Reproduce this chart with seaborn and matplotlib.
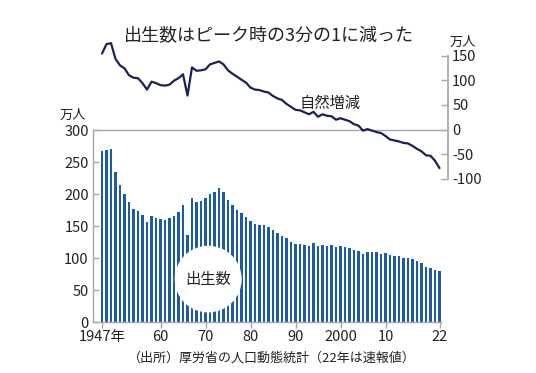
import numpy as np
import pandas as pd
import matplotlib
matplotlib.use("Agg")
import matplotlib.pyplot as plt
from matplotlib.patches import Ellipse
import seaborn as sns

years = list(range(1947, 2023))
births = [267.9, 268.2, 269.7, 233.8, 213.8, 200.5, 186.8, 177.0, 173.1, 166.5,
          156.7, 165.3, 162.6, 160.6, 158.9, 161.9, 166.0, 171.7, 182.4, 136.1,
          193.6, 187.2, 189.0, 193.4, 200.1, 203.9, 209.2, 203.0, 190.1, 183.3,
          175.5, 170.9, 164.3, 157.7, 152.9, 151.5, 150.9, 149.0, 143.2, 138.3,
          134.7, 131.4, 124.7, 122.2, 122.3, 120.9, 118.8, 123.8, 118.7, 120.7,
          119.2, 120.3, 117.8, 119.1, 117.1, 115.4, 112.4, 111.1, 106.3, 109.3,
          109.0, 109.1, 107.0, 107.1, 105.1, 103.7, 103.0, 100.4, 100.6, 97.7,
          94.6, 91.8, 86.5, 84.1, 81.2, 80.0]
natural = [154, 173, 175, 143, 130, 124, 110, 105, 104, 94,
           81, 97, 94, 90, 89, 91, 99, 104, 112, 69,
           126, 119, 120, 122, 132, 135, 138, 132, 120, 113,
           107, 101, 95, 85, 81, 80, 77, 75, 68, 63,
           60, 52, 46, 40, 39, 35, 31, 36, 26, 31,
           28, 27, 20, 23, 20, 17, 11, 8, -2, 1,
           -2, -5, -7, -13, -20, -22, -24, -27, -28, -33,
           -39, -44, -52, -53, -63, -78]
xtick_years = [1947, 1960, 1970, 1980, 1990, 2000, 2010, 2022]
xtick_labels = ["1947年", "60", "70", "80", "90", "2000", "10", "22"]
left_ticks = [0, 50, 100, 150, 200, 250, 300]
right_ticks = [-100, -50, 0, 50, 100, 150]

sns.set_theme(style="white")
plt.rcParams["font.family"] = ["Noto Sans CJK JP", "DejaVu Sans"]
plt.rcParams["axes.unicode_minus"] = False

BAR = "#1d5ba8"
LINE = "#1b2153"
GRAY = "#a8a8a8"
TXT = "#222222"

W, H = 536, 373
fig = plt.figure(figsize=(W / 100, H / 100), dpi=100)

def rect(l, t, r, b):
    return [l / W, 1 - b / H, (r - l) / W, (b - t) / H]

ax1 = fig.add_axes(rect(93, 130, 441, 322))
ax2 = fig.add_axes(rect(93, 40, 448, 179))
for a in (ax1, ax2):
    a.patch.set_alpha(0)

df = pd.DataFrame({"year": years, "births": births, "natural": natural})

sns.barplot(data=df, x="year", y="births", native_scale=True, color=BAR,
            saturation=1, width=0.6, ax=ax1, linewidth=0)
ppy = 4.5  # pixels per year
x0 = 1947 - 9 / ppy
ax1.set_xlim(x0, x0 + (441 - 93) / ppy)
ax1.set_ylim(0, 300)
ax1.set_xticks(xtick_years)
ax1.set_xticklabels(xtick_labels)
ax1.set_yticks(left_ticks)
ax1.set_xlabel("")
ax1.set_ylabel("")
for s in ("top", "right"):
    ax1.spines[s].set_visible(False)
for s in ("left", "bottom"):
    ax1.spines[s].set_color(GRAY)
    ax1.spines[s].set_linewidth(1.0)
ax1.tick_params(axis="y", direction="in", length=4, width=1, color=GRAY,
                labelsize=10.5, labelcolor=TXT, pad=3, left=True)
ax1.tick_params(axis="x", direction="out", length=4, width=1, color=GRAY,
                labelsize=10.5, labelcolor=TXT, pad=2, bottom=True)

# white circle label
cx, cy = 1970.6, 67
ax1.add_patch(Ellipse((cx, cy), 2 * 33.5 / ppy, 2 * 33.5 / (193 / 300),
                      facecolor="white", edgecolor="none", zorder=5))
ax1.text(cx, cy, "出生数", ha="center", va="center", fontsize=11, color=TXT, zorder=6)

# top panel line
sns.lineplot(data=df, x="year", y="natural", color=LINE, linewidth=1.6, ax=ax2)
ax2.set_xlim(x0, x0 + (448 - 93) / ppy)
ax2.set_ylim(-100, -100 + (179 - 40) / (24.7 / 50))
ax2.axhline(0, color=GRAY, linewidth=1.0, zorder=0)
ax2.set_xlabel("")
ax2.set_ylabel("")
ax2.set_xticks([])
for s in ("top", "left", "bottom"):
    ax2.spines[s].set_visible(False)
ax2.spines["right"].set_color(GRAY)
ax2.spines["right"].set_bounds(-100, 150)
ax2.yaxis.tick_right()
ax2.set_yticks(right_ticks)
ax2.tick_params(axis="y", direction="in", length=5, width=1, color=GRAY,
                labelsize=10.5, labelcolor=TXT, pad=3, right=True, left=False)
ax2.text(1970.6 + (330 - 208) / ppy, 52, "自然増減", ha="center", va="center",
         fontsize=11, color=TXT)

fig.text(269 / W, 1 - 36 / H, "出生数はピーク時の3分の1に減った", ha="center",
         va="center", fontsize=13, color=TXT)
fig.text(73 / W, 1 - 115 / H, "万人", ha="center", va="center", fontsize=9.5, color=TXT)
fig.text(463 / W, 1 - 42 / H, "万人", ha="center", va="center", fontsize=9.5, color=TXT)
fig.text(272 / W, 1 - 358 / H, "（出所）厚労省の人口動態統計（22年は速報値）",
         ha="center", va="center", fontsize=9.4, color=TXT)

fig.savefig("out.png", dpi=100, facecolor="white")
